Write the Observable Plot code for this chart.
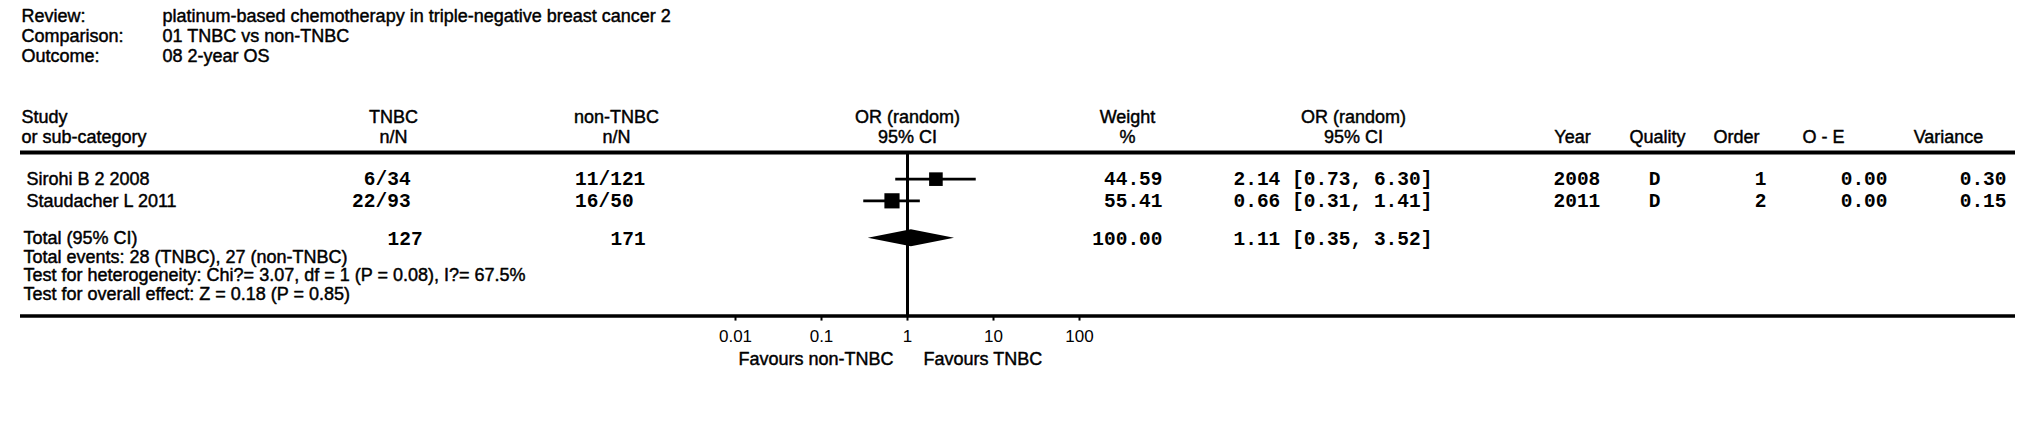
<!DOCTYPE html>
<html>
<head>
<meta charset="utf-8">
<script src="https://cdn.jsdelivr.net/npm/d3@7"></script>
<script src="https://cdn.jsdelivr.net/npm/@observablehq/plot@0.6"></script>
<style>
  html, body { margin: 0; padding: 0; background: #fff; }
</style>
</head>
<body>
<div id="chart"></div>
<script>
// ---------------- DATA ----------------
const metaLabels = ["Review:", "Comparison:", "Outcome:"];
const metaValues = [
  "platinum-based chemotherapy in triple-negative breast cancer 2",
  "01 TNBC vs non-TNBC",
  "08 2-year OS"
];
const studies = ["Sirohi B 2 2008", "Staudacher L 2011"];
const tnbcEvents = [6, 22];
const tnbcTotals = [34, 93];
const nonEvents = [11, 16];
const nonTotals = [121, 50];
const orEstimate = [2.14, 0.66];
const orLower = [0.73, 0.31];
const orUpper = [6.30, 1.41];
const weights = [44.59, 55.41];
const years = [2008, 2011];
const quality = ["D", "D"];
const order = [1, 2];
const oMinusE = [0.00, 0.00];
const variance = [0.30, 0.15];

const totalLabel = "Total (95% CI)";
const totalTNBC = 127;
const totalNon = 171;
const totalOR = 1.11;
const totalLower = 0.35;
const totalUpper = 3.52;
const totalWeight = 100.00;
const notes = [
  "Total events: 28 (TNBC), 27 (non-TNBC)",
  "Test for heterogeneity: Chi?= 3.07, df = 1 (P = 0.08), I?= 67.5%",
  "Test for overall effect: Z = 0.18 (P = 0.85)"
];
const tickValues = [0.01, 0.1, 1, 10, 100];
const tickLabels = ["0.01", "0.1", "1", "10", "100"];
const favoursLeft = "Favours non-TNBC";
const favoursRight = "Favours TNBC";

// ---------------- LAYOUT ----------------
const W = 2031, H = 448;
const ML = 20, MR = 16;
const lineStep = 19.7;                 // px per text line
const studyHeadY = 116.6;              // px of line 5
// vertical positions in "line" units
const LN = {meta: [-0.1, 0.9, 1.9], head1: 5, head2: 6, topRule: 6.8, study: [8.15, 9.25],
            total: 11.15, notes: [12.1, 13.05, 14.0], bottomRule: 15.1, favours: 17.3};
const col = {
  label: 21, study: 26, meta: 162,
  tnbcHead: 393, tnbcSlash: 375,
  nonHead: 616, nonSlash: 598,
  weightHead: 1127, weight: 1162,
  ciHead: 1353, ci: 1233,
  yearHead: 1572, year: 1553,
  qualityHead: 1657, quality: 1654,
  orderHead: 1736, order: 1766,
  oeHead: 1823, oe: 1887,
  varHead: 1948, variance: 2006
};
const sans = "Arial, 'Liberation Sans', Helvetica, sans-serif";
const mono = "'Liberation Mono', 'Courier New', monospace";
const sansSize = 18, monoSize = 19.5;
const diamondHalf = 0.43;  // in line units

const yOf = L => studyHeadY + (L - LN.head1) * lineStep;

// table rows built from arrays
const rows = studies.map((s, i) => ({
  study: s, line: LN.study[i],
  tn: tnbcEvents[i], tN: tnbcTotals[i], nn: nonEvents[i], nN: nonTotals[i],
  or: orEstimate[i], lo: orLower[i], hi: orUpper[i], w: weights[i],
  year: years[i], q: quality[i], ord: order[i], oe: oMinusE[i], v: variance[i]
}));

const f2 = d3.format(".2f");
const sansStyle = {fontFamily: sans, fontSize: sansSize, fill: "black", stroke: "black", strokeWidth: 0.45};

function colText(data, x, opts) {
  return Plot.text(data, {frameAnchor: "left", dx: x - ML, ...sansStyle, ...opts});
}
function monoText(data, x, opts) {
  return colText(data, x, {fontFamily: mono, fontSize: monoSize, fontWeight: "bold", stroke: null, ...opts});
}

const diamond = [
  {x: totalLower, y1: LN.total, y2: LN.total},
  {x: totalOR, y1: LN.total - diamondHalf, y2: LN.total + diamondHalf},
  {x: totalUpper, y1: LN.total, y2: LN.total}
];

const yBottomRule = yOf(LN.bottomRule);
const headRows = [LN.head1, LN.head2];

const chart = Plot.plot({
  width: W, height: H,
  marginLeft: ML, marginRight: MR, marginTop: 0,
  marginBottom: H - yBottomRule,
  style: {background: "white", color: "black", fontFamily: sans},
  x: {type: "log", domain: [0.01, 100], range: [735, 1079], axis: null},
  y: {domain: [LN.head1, LN.bottomRule], range: [studyHeadY, yBottomRule], axis: null},
  r: {type: "sqrt", domain: [0, 100], range: [0, 11.5]},
  marks: [
    // meta header
    colText(metaLabels, col.label, {y: (d, i) => LN.meta[i], text: d => d, textAnchor: "start"}),
    colText(metaValues, col.meta, {y: (d, i) => LN.meta[i], text: d => d, textAnchor: "start"}),
    // column headers
    colText(["Study", "or sub-category"], col.label, {y: (d, i) => headRows[i], text: d => d, textAnchor: "start"}),
    colText(["TNBC", "n/N"], col.tnbcHead, {y: (d, i) => headRows[i], text: d => d, textAnchor: "middle"}),
    colText(["non-TNBC", "n/N"], col.nonHead, {y: (d, i) => headRows[i], text: d => d, textAnchor: "middle"}),
    Plot.text(["OR (random)", "95% CI"], {x: 1, y: (d, i) => headRows[i], text: d => d, ...sansStyle, textAnchor: "middle"}),
    colText(["Weight", "%"], col.weightHead, {y: (d, i) => headRows[i], text: d => d, textAnchor: "middle"}),
    colText(["OR (random)", "95% CI"], col.ciHead, {y: (d, i) => headRows[i], text: d => d, textAnchor: "middle"}),
    colText(["Year"], col.yearHead, {y: LN.head2, text: d => d, textAnchor: "middle"}),
    colText(["Quality"], col.qualityHead, {y: LN.head2, text: d => d, textAnchor: "middle"}),
    colText(["Order"], col.orderHead, {y: LN.head2, text: d => d, textAnchor: "middle"}),
    colText(["O - E"], col.oeHead, {y: LN.head2, text: d => d, textAnchor: "middle"}),
    colText(["Variance"], col.varHead, {y: LN.head2, text: d => d, textAnchor: "middle"}),

    // rules
    Plot.ruleY([LN.topRule], {stroke: "black", strokeWidth: 4}),
    Plot.ruleY([LN.bottomRule], {stroke: "black", strokeWidth: 3.5}),
    Plot.ruleX([1], {y1: LN.topRule, y2: LN.bottomRule, stroke: "black", strokeWidth: 3}),

    // study rows
    colText(rows, col.study, {y: "line", text: "study", textAnchor: "start"}),
    monoText(rows, col.tnbcSlash, {y: "line", text: d => String(d.tn), textAnchor: "end"}),
    monoText(rows, col.tnbcSlash, {y: "line", text: d => "/" + d.tN, textAnchor: "start"}),
    monoText(rows, col.nonSlash, {y: "line", text: d => String(d.nn), textAnchor: "end"}),
    monoText(rows, col.nonSlash, {y: "line", text: d => "/" + d.nN, textAnchor: "start"}),
    Plot.ruleY(rows, {x1: "lo", x2: "hi", y: "line", stroke: "black", strokeWidth: 2.6}),
    Plot.dot(rows, {x: "or", y: "line", r: "w", symbol: "square", fill: "black", stroke: null}),
    monoText(rows, col.weight, {y: "line", text: d => f2(d.w), textAnchor: "end"}),
    monoText(rows, col.ci, {y: "line", text: d => `${f2(d.or)} [${f2(d.lo)}, ${f2(d.hi)}]`, textAnchor: "start"}),
    monoText(rows, col.year, {y: "line", text: d => String(d.year), textAnchor: "start"}),
    monoText(rows, col.quality, {y: "line", text: "q", textAnchor: "middle"}),
    monoText(rows, col.order, {y: "line", text: d => String(d.ord), textAnchor: "end"}),
    monoText(rows, col.oe, {y: "line", text: d => f2(d.oe), textAnchor: "end"}),
    monoText(rows, col.variance, {y: "line", text: d => f2(d.v), textAnchor: "end"}),

    // total row
    colText([totalLabel], col.label + 2, {y: LN.total, text: d => d, textAnchor: "start"}),
    monoText([totalTNBC], col.tnbcSlash + 12, {y: LN.total, text: d => String(d), textAnchor: "start"}),
    monoText([totalNon], col.nonSlash + 12, {y: LN.total, text: d => String(d), textAnchor: "start"}),
    Plot.areaY(diamond, {x: "x", y1: "y1", y2: "y2", fill: "black", curve: "linear"}),
    monoText([totalWeight], col.weight, {y: LN.total, text: d => f2(d), textAnchor: "end"}),
    monoText([totalOR], col.ci, {y: LN.total, text: d => `${f2(d)} [${f2(totalLower)}, ${f2(totalUpper)}]`, textAnchor: "start"}),
    colText(notes, col.label + 2, {y: (d, i) => LN.notes[i], text: d => d, textAnchor: "start"}),

    // axis
    Plot.axisX(tickValues, {
      anchor: "bottom", tickSize: 5, tickPadding: 8.5, strokeWidth: 2,
      tickFormat: d => tickLabels[tickValues.indexOf(d)],
      fontSize: 17, fontFamily: sans, fill: "black", stroke: "black"
    }),
    Plot.text([favoursLeft], {x: 1, y: LN.favours, text: d => d, dx: -14, textAnchor: "end", ...sansStyle}),
    Plot.text([favoursRight], {x: 1, y: LN.favours, text: d => d, dx: 16, textAnchor: "start", ...sansStyle})
  ]
});

document.getElementById("chart").append(chart);
</script>
</body>
</html>
